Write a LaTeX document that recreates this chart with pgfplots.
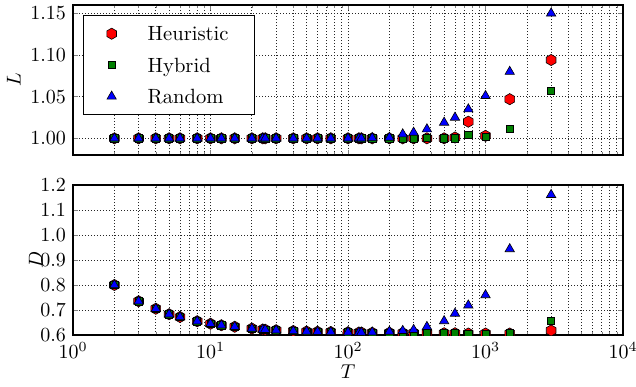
\documentclass[border=0pt]{standalone}
\usepackage{pgfplots}
\usepackage{pgfplotstable}
\pgfplotsset{compat=1.18}
\usetikzlibrary{plotmarks}

\pgfdeclareplotmark{hexagon*}{%
  \pgfpathmoveto{\pgfpointpolar{90}{\pgfplotmarksize}}%
  \pgfpathlineto{\pgfpointpolar{150}{\pgfplotmarksize}}%
  \pgfpathlineto{\pgfpointpolar{210}{\pgfplotmarksize}}%
  \pgfpathlineto{\pgfpointpolar{270}{\pgfplotmarksize}}%
  \pgfpathlineto{\pgfpointpolar{330}{\pgfplotmarksize}}%
  \pgfpathlineto{\pgfpointpolar{30}{\pgfplotmarksize}}%
  \pgfpathclose
  \pgfusepathqfillstroke
}

\definecolor{mplgreen}{rgb}{0,0.5,0}

\pgfplotstableread{
T     Lh     Lb      Lr      Dh     Db     Dr
2     1.000  1.000   1.000   0.800  0.800  0.800
3     1.000  1.000   1.000   0.735  0.735  0.735
4     1.000  1.000   1.000   0.705  0.705  0.705
5     1.000  1.000   1.000   0.683  0.683  0.683
6     1.000  1.000   1.000   0.672  0.672  0.672
8     1.000  1.000   1.000   0.655  0.655  0.655
10    1.000  1.000   1.000   0.645  0.645  0.645
12    1.000  1.000   1.000   0.639  0.639  0.639
15    1.000  1.000   1.000   0.633  0.633  0.633
20    1.000  1.000   1.000   0.626  0.626  0.626
24    1.000  1.000   1.000   0.622  0.622  0.622
25    1.000  1.000   1.000   0.621  0.621  0.621
30    1.000  1.000   1.000   0.619  0.619  0.619
40    1.000  1.000   1.000   0.616  0.616  0.616
50    1.000  1.000   1.000   0.614  0.614  0.614
60    1.000  1.000   1.000   0.613  0.613  0.613
75    1.000  1.000   1.000   0.612  0.612  0.612
100   1.000  1.000   1.000   0.611  0.611  0.611
120   1.000  1.000   1.000   0.610  0.610  0.610
125   1.000  1.000   1.000   0.610  0.610  0.610
150   1.000  1.000   1.0005  0.609  0.609  0.611
200   1.000  1.000   1.001   0.609  0.609  0.614
250   1.000  1.000   1.005   0.608  0.608  0.617
300   1.000  1.000   1.007   0.608  0.608  0.621
375   1.000  1.0005  1.011   0.607  0.607  0.633
500   1.000  1.000   1.019   0.607  0.607  0.656
600   1.001  1.000   1.025   0.607  0.607  0.686
750   1.020  1.0045  1.035   0.606  0.606  0.719
1000  1.003  1.002   1.051   0.606  0.606  0.760
1500  1.047  1.0115  1.080   0.606  0.607  0.944
3000  1.094  1.0575  1.150   0.618  0.657  1.161
}\datatable

\begin{document}
\begin{tikzpicture}
\begin{axis}[
  width=275pt, height=75pt, scale only axis,
  xmode=log, xmin=1, xmax=10000,
  xtick={1,10,100,1000,10000},
  xmajorgrids=true, xminorgrids=true, ymajorgrids=true,
  major grid style={black!85, line width=0.4pt, dash pattern=on 0.5pt off 1pt},
  minor grid style={black!85, line width=0.4pt, dash pattern=on 0.5pt off 1pt},
  axis line style={line width=0.7pt},
  major tick length=2.5pt, minor tick length=1.4pt,
  tick align=inside,
  clip marker paths=true,
  at={(0pt,0pt)}, anchor=north west,
  ymin=0.98, ymax=1.16,
  ytick={1.00,1.05,1.10,1.15},
  yticklabel style={/pgf/number format/fixed, /pgf/number format/fixed zerofill, /pgf/number format/precision=2},
  xticklabels={},
  ylabel={$L$}, ylabel shift=-2pt,
  legend style={at={(0.018,0.933)}, anchor=north west, draw=black, line width=0.5pt,
    inner xsep=11.7pt, inner ysep=2pt, row sep=1.5pt, cells={anchor=west},
    font=\fontsize{10.3}{12.4}\selectfont},
  legend image code/.code={\draw[#1] plot coordinates {(0pt,0pt)};},
]
\addplot[only marks, mark=hexagon*, mark size=2.8pt, mark options={fill=red, draw=black, line width=0.3pt}] table[x=T, y=Lh] {\datatable};
\addlegendentry{\hspace*{13.6pt}\makebox[39.5pt][l]{Heuristic\strut}}
\addplot[only marks, mark=square*, mark size=1.8pt, mark options={fill=mplgreen, draw=black, line width=0.3pt}] table[x=T, y=Lb] {\datatable};
\addlegendentry{\hspace*{13.6pt}\makebox[39.5pt][l]{Hybrid\strut}}
\addplot[only marks, mark=triangle*, mark size=2.7pt, mark options={fill=blue, draw=black, line width=0.3pt}] table[x=T, y=Lr] {\datatable};
\addlegendentry{\hspace*{13.6pt}\makebox[39.5pt][l]{Random\strut}}
\end{axis}

\begin{axis}[
  width=275pt, height=75pt, scale only axis,
  xmode=log, xmin=1, xmax=10000,
  xtick={1,10,100,1000,10000},
  xmajorgrids=true, xminorgrids=true, ymajorgrids=true,
  major grid style={black!85, line width=0.4pt, dash pattern=on 0.5pt off 1pt},
  minor grid style={black!85, line width=0.4pt, dash pattern=on 0.5pt off 1pt},
  axis line style={line width=0.7pt},
  major tick length=2.5pt, minor tick length=1.4pt,
  tick align=inside,
  clip marker paths=true,
  at={(0pt,-90pt)}, anchor=north west,
  ymin=0.6, ymax=1.2,
  ytick={0.6,0.7,0.8,0.9,1.0,1.1,1.2},
  yticklabel style={/pgf/number format/fixed, /pgf/number format/fixed zerofill, /pgf/number format/precision=1},
  ylabel={$D$}, ylabel shift=-8pt,
  xlabel={$T$}, xlabel shift=-3.5pt,
]
\addplot[only marks, mark=hexagon*, mark size=2.8pt, mark options={fill=red, draw=black, line width=0.3pt}] table[x=T, y=Dh] {\datatable};
\addplot[only marks, mark=square*, mark size=1.8pt, mark options={fill=mplgreen, draw=black, line width=0.3pt}] table[x=T, y=Db] {\datatable};
\addplot[only marks, mark=triangle*, mark size=2.7pt, mark options={fill=blue, draw=black, line width=0.3pt}] table[x=T, y=Dr] {\datatable};
\end{axis}
\pgfresetboundingbox
\path (-36.5pt,2.5pt) rectangle (281.5pt,-190.5pt);
\end{tikzpicture}
\end{document}
